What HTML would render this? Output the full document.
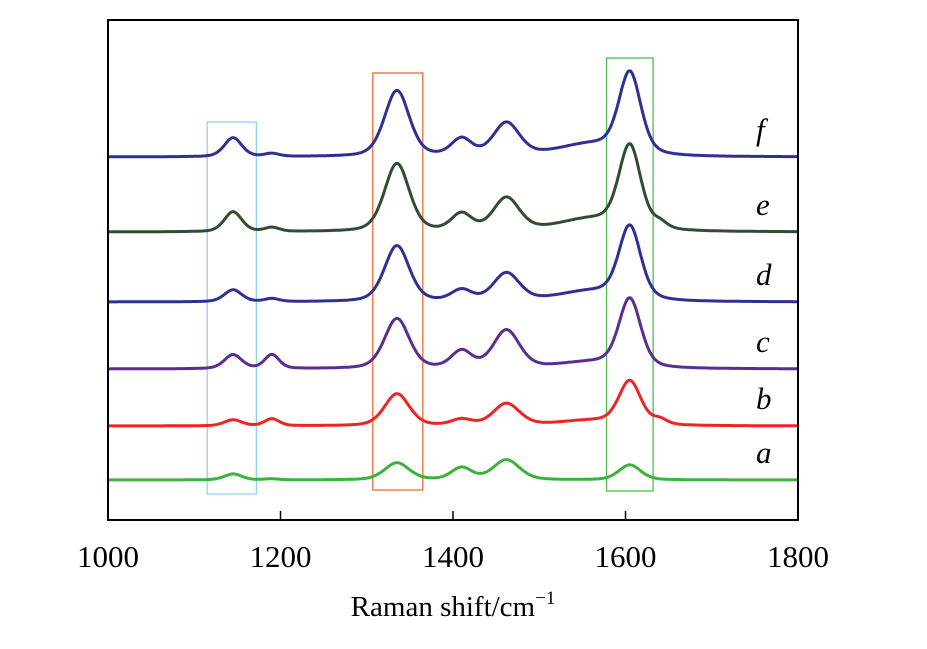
<!DOCTYPE html>
<html><head><meta charset="utf-8"><style>
body{margin:0;background:#fff;width:927px;height:644px;overflow:hidden}
text{font-family:"Liberation Serif",serif}
</style></head><body>
<svg id="chart" width="927" height="644" xmlns="http://www.w3.org/2000/svg">
<g id="boxes"></g>
<g id="series"></g>
<rect x="108" y="20" width="690" height="500" fill="none" stroke="#000" stroke-width="2"/>
<g id="axis"></g>
<text x="453" y="616" text-anchor="middle" font-size="29">Raman shift/cm<tspan font-size="19" dy="-12">−1</tspan></text>
</svg>
<script>
const xTicks=[1000,1200,1400,1600,1800];
const seriesNames=['f','e','d','c','b','a'];
const seriesColors=['#2e3192','#2f4d30','#2e3192','#5b2d90','#ee2424','#3cb13c'];
const offsets=[363,288,218,151,94,40];
const peakPos=[1145,1190,1335,1410,1462,1560,1605,1640];
const peakH=[
 [19,3,66,17,33,12,80,0],
 [20,4,68,17,33,12,82,6],
 [12,3,56,11,28,10,72,0],
 [14,14,50,17,38,6,68,0],
 [6,7,32,6,22,5,43,5],
 [6,1,17,12,20,0,15,0]];
const peakW=[12,10,17,14,18,45,15,10];
const boxes=[[1115,1172,122,494,'#8fd3f0'],[1307,1365,73,490,'#f06a30'],[1578,1632,58,491,'#4cbf4c']];
const X0=108,X1=798;
const sx=v=>X0+(v-1000)/800*(X1-X0);
const sy=v=>520-v;
const NS='http://www.w3.org/2000/svg';
const bg=document.getElementById('boxes');
boxes.forEach((b,i)=>{const r=document.createElementNS(NS,'rect');
r.setAttribute('x',sx(b[0]));r.setAttribute('y',b[2]);r.setAttribute('width',sx(b[1])-sx(b[0]));r.setAttribute('height',b[3]-b[2]);
r.setAttribute('fill','none');r.setAttribute('stroke',b[4]);r.setAttribute('stroke-width','1.3');


bg.appendChild(r);});
const sg=document.getElementById('series');
seriesNames.forEach((n,i)=>{let d='';
for(let x=1000;x<=1800;x+=2){let v=offsets[i];
peakPos.forEach((p,k)=>{const w=peakW[k];const u=(x-p)/w;
const lor=1/(1+u*u);const gau=Math.exp(-Math.LN2*u*u);
v+=peakH[i][k]*(0.35*lor+0.65*gau);});
d+=(x===1000?'M':'L')+sx(x).toFixed(1)+','+sy(v).toFixed(1);}
const p=document.createElementNS(NS,'path');p.setAttribute('d',d);p.setAttribute('fill','none');
p.setAttribute('stroke',seriesColors[i]);p.setAttribute('stroke-width','3');p.setAttribute('stroke-linejoin','round');


sg.appendChild(p);
const t=document.createElementNS(NS,'text');t.setAttribute('x',756);t.setAttribute('y',sy(offsets[i])-17);
t.setAttribute('font-size','31');t.setAttribute('font-style','italic');t.textContent=n;


sg.appendChild(t);});
const ax=document.getElementById('axis');
xTicks.forEach(v=>{if(v>1000&&v<1800){const l=document.createElementNS(NS,'line');
l.setAttribute('x1',sx(v));l.setAttribute('x2',sx(v));l.setAttribute('y1',520);l.setAttribute('y2',511);l.setAttribute('stroke','#000');l.setAttribute('stroke-width','1.5');


ax.appendChild(l);}
const t=document.createElementNS(NS,'text');t.setAttribute('x',sx(v));t.setAttribute('y',567);t.setAttribute('text-anchor','middle');t.setAttribute('font-size','31');t.textContent=v;


ax.appendChild(t);});
</script>
</body></html>
